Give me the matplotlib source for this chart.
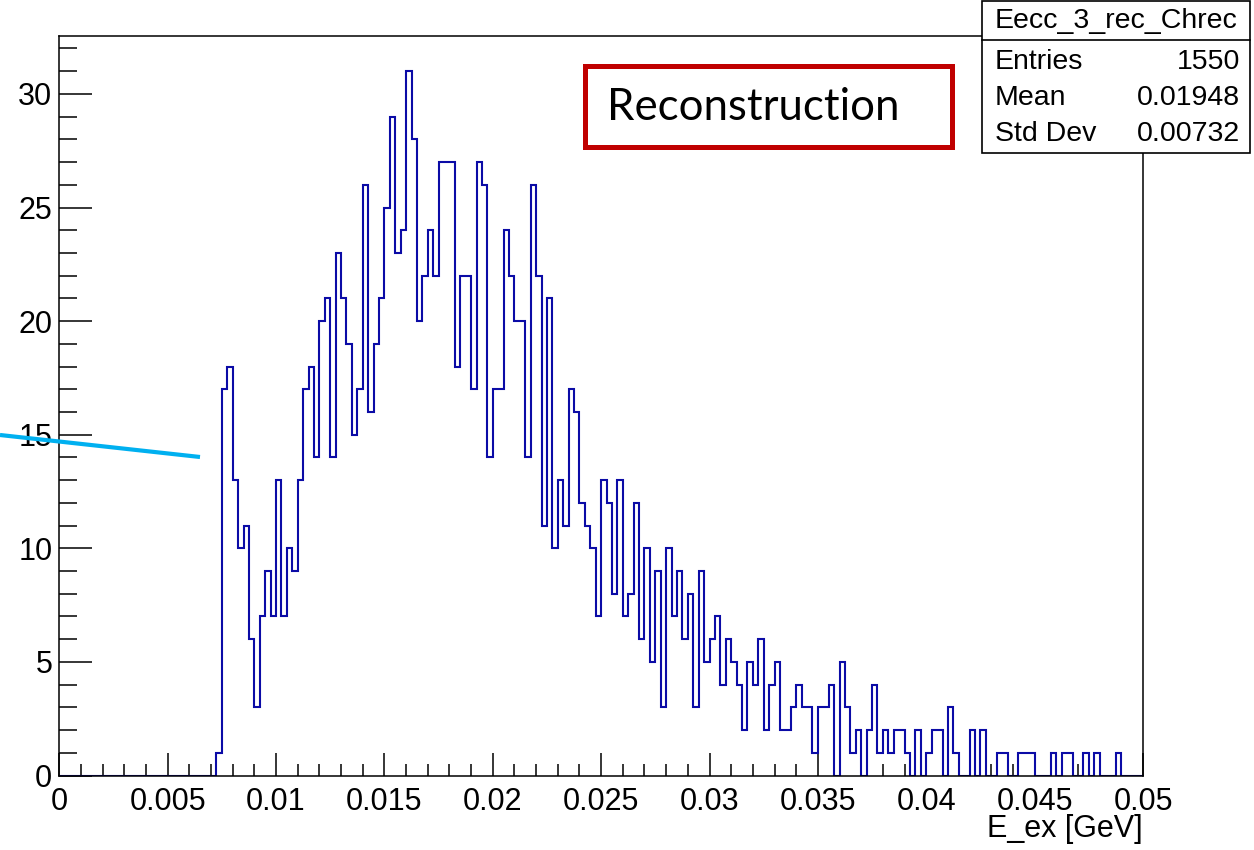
import numpy as np
import matplotlib
matplotlib.use("Agg")
import matplotlib.pyplot as plt
from matplotlib.ticker import MultipleLocator, FuncFormatter
from matplotlib.patches import Rectangle
from matplotlib.lines import Line2D

plt.rcParams["font.family"] = ["Liberation Sans", "DejaVu Sans"]

# Histogram definition: 200 equal bins on [0, 0.05] GeV
x_min, x_max = 0.0, 0.05
n_bins = 200
counts = [
    0, 0, 0, 0, 0, 0, 0, 0, 0, 0, 0, 0, 0, 0, 0, 0, 0, 0, 0, 0,
    0, 0, 0, 0, 0, 0, 0, 0, 0, 1, 17, 18, 13, 10, 11, 6, 3, 7, 9, 7,
    13, 7, 10, 9, 13, 17, 18, 14, 20, 21, 14, 23, 21, 19, 15, 17, 26, 16, 19, 21,
    25, 29, 23, 24, 31, 28, 20, 22, 24, 22, 27, 27, 27, 18, 22, 22, 17, 27, 26, 14,
    17, 17, 24, 22, 20, 20, 14, 26, 22, 11, 21, 10, 13, 11, 17, 16, 12, 11, 10, 7,
    13, 12, 8, 13, 7, 8, 12, 6, 10, 5, 9, 3, 10, 7, 9, 6, 8, 3, 9, 5,
    6, 7, 4, 6, 5, 4, 2, 5, 4, 6, 2, 4, 5, 2, 2, 3, 4, 3, 3, 1,
    3, 3, 4, 0, 5, 3, 1, 2, 0, 2, 4, 1, 2, 1, 2, 2, 1, 0, 2, 0,
    1, 2, 2, 0, 3, 1, 0, 0, 2, 0, 2, 0, 0, 1, 1, 0, 0, 1, 1, 1,
    0, 0, 0, 1, 0, 1, 1, 0, 0, 1, 0, 1, 0, 0, 0, 1, 0, 0, 0, 0,
]

hist_name = "Eecc_3_rec_Chrec"
stat_labels = ["Entries", "Mean", "Std Dev"]
stat_values = ["1550", "0.01948", "0.00732"]
x_label = "E_ex [GeV]"
banner = "Reconstruction"

W, H = 1254, 850
fig = plt.figure(figsize=(W / 100, H / 100), dpi=100)


def fx(px):
    return px / W


def fy(py):
    return 1 - py / H


# Frame of the plot pad
left, right, top, bottom = 59.3, 1143.0, 36.0, 775.5
ax = fig.add_axes([fx(left), fy(bottom), fx(right) - fx(left), fy(top) - fy(bottom)])

edges = np.linspace(x_min, x_max, n_bins + 1)
ax.stairs(counts, edges, color="#0b0ba6", lw=1.5, baseline=0, zorder=2)

ax.set_xlim(x_min, x_max)
ax.set_ylim(0, max(counts) * 1.05)

ax.xaxis.set_major_locator(MultipleLocator(0.005))
ax.xaxis.set_minor_locator(MultipleLocator(0.001))
ax.yaxis.set_major_locator(MultipleLocator(5))
ax.yaxis.set_minor_locator(MultipleLocator(1))
ax.xaxis.set_major_formatter(FuncFormatter(lambda v, _: f"{v:g}"))
ax.yaxis.set_major_formatter(FuncFormatter(lambda v, _: f"{v:g}"))

ax.tick_params(axis="both", which="both", direction="in", top=False, right=False,
               width=1.1, color="black")
ax.tick_params(axis="x", which="major", length=16.5, labelsize=22, pad=8)
ax.tick_params(axis="x", which="minor", length=8.5)
ax.tick_params(axis="y", which="major", length=24, labelsize=22, pad=5)
ax.tick_params(axis="y", which="minor", length=13)

for sp in ax.spines.values():
    sp.set_linewidth(1.1)
    sp.set_color("black")

# Axis title, right-aligned under the axis end
fig.text(fx(1143), fy(829), x_label, ha="right", va="center", fontsize=22)

# Statistics box
fig.add_artist(Rectangle((fx(982), fy(153)), fx(1250) - fx(982), fy(1) - fy(153),
                         transform=fig.transFigure, facecolor="white",
                         edgecolor="black", lw=1.2, zorder=5))
fig.add_artist(Line2D([fx(982), fx(1250)], [fy(40), fy(40)],
                      transform=fig.transFigure, color="black", lw=1.2, zorder=6))
fig.text(fx(1116), fy(21), hist_name, ha="center", va="center", fontsize=20.5, zorder=7)
for i, (lab, val) in enumerate(zip(stat_labels, stat_values)):
    yy = fy(62 + i * 36)
    fig.text(fx(995), yy, lab, ha="left", va="center", fontsize=20.5, zorder=7)
    fig.text(fx(1240), yy, val, ha="right", va="center", fontsize=20.5, zorder=7)

# Annotation banner
fig.add_artist(Rectangle((fx(585), fy(147)), fx(952) - fx(585), fy(66) - fy(147),
                         transform=fig.transFigure, facecolor="white",
                         edgecolor="#c00000", lw=3.6, zorder=5))
fig.text(fx(607), fy(108), banner, ha="left", va="center", fontsize=31.5,
         family=["Lato", "DejaVu Sans"], zorder=7)

# Pointer line entering from the left edge
fig.add_artist(Line2D([0, fx(200)], [fy(435), fy(457)], transform=fig.transFigure,
                      color="#00b0f0", lw=3, solid_capstyle="butt", zorder=6))

fig.savefig("out.png", dpi=100)
